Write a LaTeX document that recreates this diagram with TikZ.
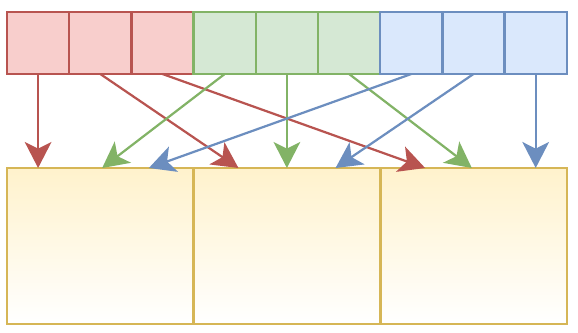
\documentclass[tikz,border=0pt]{standalone}
\usepackage{tikz}
\usetikzlibrary{arrows.meta,calc}
\definecolor{redF}{HTML}{F8CECC}
\definecolor{redD}{HTML}{B85450}
\definecolor{greenF}{HTML}{D5E8D4}
\definecolor{greenD}{HTML}{82B366}
\definecolor{blueF}{HTML}{DAE8FC}
\definecolor{blueD}{HTML}{6C8EBF}
\definecolor{yelF}{HTML}{FFF2CC}
\definecolor{yelD}{HTML}{D6B656}

\begin{document}
\begin{tikzpicture}[x=0.03cm, y=-0.03cm,
    cell/.style={line width=2.2pt, minimum width=1.866cm, minimum height=1.86cm, inner sep=0pt, outer sep=0pt},
    redcell/.style={cell, draw=redD, fill=redF},
    greencell/.style={cell, draw=greenD, fill=greenF},
    bluecell/.style={cell, draw=blueD, fill=blueF},
    slot/.style={draw=yelD, line width=2.2pt, top color=yelF, bottom color=white, minimum width=5.6cm, minimum height=4.68cm, inner sep=0pt, outer sep=0pt},
    link/.style={line width=1.9pt, -{Stealth[length=0.78cm, width=0.8cm, inset=0.2cm]}}
]
\useasboundingbox (0,0) rectangle (578,333);
% row of nine input cells
\foreach \n/\i/\st in {r1/0/redcell, r2/1/redcell, r3/2/redcell,
                       g1/3/greencell, g2/4/greencell, g3/5/greencell,
                       b1/6/bluecell, b2/7/bluecell, b3/8/bluecell}
  \node[\st] (\n) at ({38.1+62.2*\i},43) {};
% three output slots
\foreach \n/\i in {lo1/0, lo2/1, lo3/2}
  \node[slot] (\n) at ({100.33+186.67*\i},246) {};
% red cells
\draw[link, redD] (r1.south) -- (r1.south |- lo1.north);
\draw[link, redD] (r2.south) -- ($(lo2.north west)!0.24!(lo2.north east)$);
\draw[link, redD] (r3.south) -- ($(lo3.north west)!0.24!(lo3.north east)$);
% green cells
\draw[link, greenD] (g1.south) -- ($(lo1.north west)!0.51!(lo1.north east)$);
\draw[link, greenD] (g2.south) -- (g2.south |- lo2.north);
\draw[link, greenD] (g3.south) -- ($(lo3.north west)!0.49!(lo3.north east)$);
% blue cells
\draw[link, blueD] (b1.south) -- ($(lo1.north west)!0.76!(lo1.north east)$);
\draw[link, blueD] (b2.south) -- ($(lo2.north west)!0.76!(lo2.north east)$);
\draw[link, blueD] (b3.south) -- (b3.south |- lo3.north);
\end{tikzpicture}
\end{document}
